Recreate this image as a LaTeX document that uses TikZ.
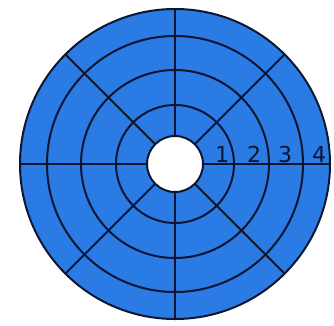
\documentclass[tikz,border=0pt]{standalone}
\usepackage{fontspec}
\setmainfont{DejaVu Sans}
\usetikzlibrary{calc}
\definecolor{platter}{HTML}{2A7BE4}
\definecolor{groove}{HTML}{0C1630}

\begin{document}
\begin{tikzpicture}[x=1pt, y=-1pt,
  ring/.style={draw=groove, line width=2pt},
  spoke/.style={draw=groove, line width=2pt},
  tracklabel/.style={font=\fontsize{22}{26}\selectfont, text=groove, inner sep=0pt}
]
  \useasboundingbox (0,0) rectangle (334,325);
  \coordinate (c) at (175,164);

  % Platter
  \fill[platter] (c) circle[radius=155];

  % Sectors
  \foreach \a in {0,45,...,315}
    \draw[spoke] ($(c)+(\a:28)$) -- ($(c)+(\a:155)$);

  % Tracks
  \foreach \r in {59,94,128,155}
    \draw[ring] (c) circle[radius=\r];

  % Spindle hole
  \filldraw[fill=white, ring] (c) circle[radius=28];

  % Track numbers
  \foreach \n/\x in {1/222,2/254,3/285,4/319}
    \node[tracklabel] (t\n) at (\x,154) {\n};
\end{tikzpicture}
\end{document}
